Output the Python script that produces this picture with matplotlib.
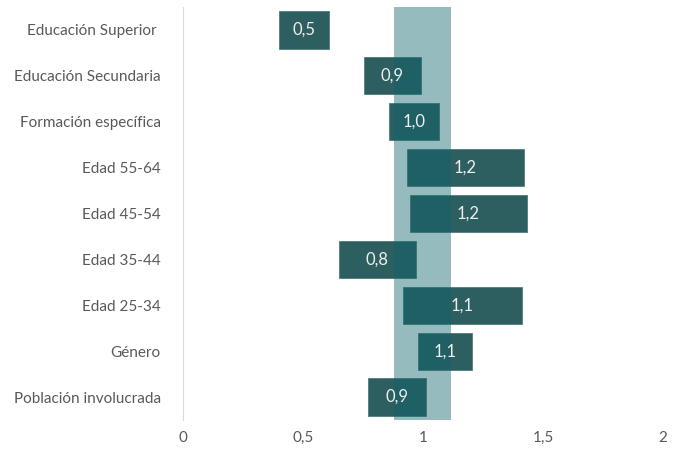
import numpy as np
import matplotlib.pyplot as plt

# categories, top to bottom
categories = ["Educación Superior ", "Educación Secundaria", "Formación específica",
              "Edad 55-64", "Edad 45-54", "Edad 35-44", "Edad 25-34",
              "Género", "Población involucrada"]
values = [0.5, 0.9, 1.0, 1.2, 1.2, 0.8, 1.1, 1.1, 0.9]
lows = [0.40, 0.753, 0.86, 0.932, 0.947, 0.65, 0.917, 0.978, 0.772]
highs = [0.61, 0.992, 1.068, 1.42, 1.432, 0.97, 1.4125, 1.203, 1.0125]
band = (0.88, 1.117)
xticks = [0, 0.5, 1, 1.5, 2]

plt.rcParams['font.family'] = ['Lato', 'DejaVu Sans']

fig = plt.figure(figsize=(6.79, 4.51), dpi=100)
ax = fig.add_axes([0.2695, 0.0687, 0.707, 0.9158])

n = len(categories)
y = np.arange(n)[::-1]
lows = np.array(lows)
highs = np.array(highs)

ax.barh(y, highs - lows, left=lows, height=0.81, color='#2e5f60',
        edgecolor='#4d7d7f', linewidth=0.6, zorder=2)
ax.axvspan(band[0], band[1], color='#0d636a', alpha=0.43, lw=0, zorder=3)

for yi, lo, hi, v in zip(y, lows, highs, values):
    ax.text((lo + hi) / 2, yi, f"{v:.1f}".replace('.', ','), ha='center',
            va='center', color='#eeeeee', fontsize=12, zorder=4)

ax.set_xlim(0, 2)
ax.set_ylim(-0.5, n - 0.5)
ax.set_yticks(y)
ax.set_yticklabels(categories)
ax.set_xticks(xticks)
ax.set_xticklabels([f"{t:g}".replace('.', ',') for t in xticks])
ax.tick_params(axis='both', length=0, labelsize=11, colors='#595959')
ax.tick_params(axis='y', pad=16)
ax.tick_params(axis='x', pad=8)

for s in ['top', 'right', 'bottom']:
    ax.spines[s].set_visible(False)
ax.spines['left'].set_color('#d9d9d9')
ax.spines['left'].set_linewidth(0.8)

fig.savefig('out.png', dpi=100)
